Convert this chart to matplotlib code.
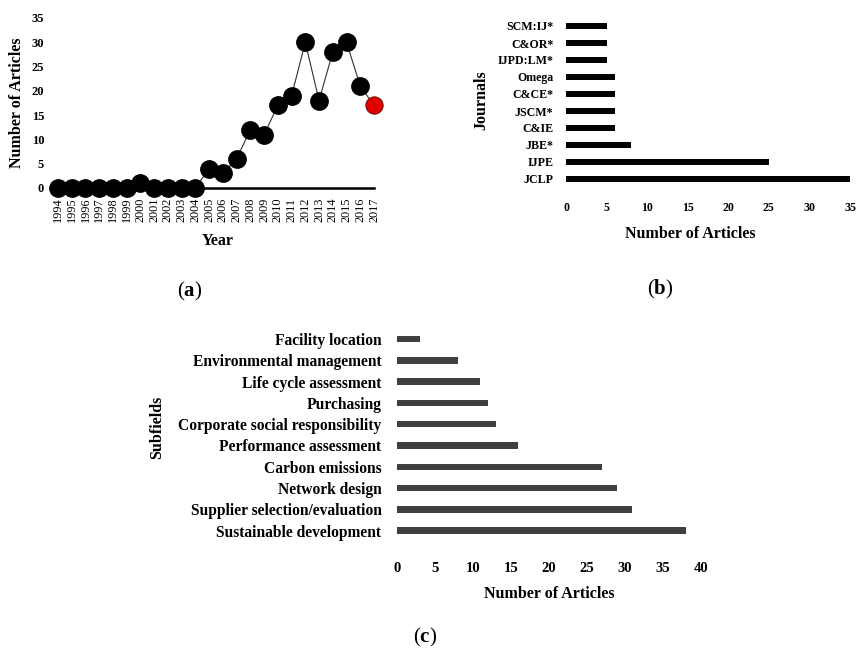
import matplotlib
matplotlib.use("Agg")
import matplotlib.pyplot as plt

# (a) articles per year
years = list(range(1994, 2018))
articles = [0, 0, 0, 0, 0, 0, 1, 0, 0, 0, 0, 4, 3, 6, 12, 11, 17, 19, 30, 18, 28, 30, 21, 17]

# (b) journals
journals = ["JCLP", "IJPE", "JBE*", "C&IE", "JSCM*", "C&CE*", "Omega", "IJPD:LM*", "C&OR*", "SCM:IJ*"]
journal_counts = [35, 25, 8, 6, 6, 6, 6, 5, 5, 5]

# (c) subfields
subfields = ["Sustainable development", "Supplier selection/evaluation", "Network design",
             "Carbon emissions", "Performance assessment", "Corporate social responsibility",
             "Purchasing", "Life cycle assessment", "Environmental management", "Facility location"]
subfield_counts = [38, 31, 29, 27, 16, 13, 12, 11, 8, 3]

W, H = 857, 650
plt.rcParams['font.family'] = ['Liberation Serif', 'DejaVu Serif']
plt.rcParams['font.weight'] = 'bold'
plt.rcParams['mathtext.fontset'] = 'custom'
plt.rcParams['mathtext.rm'] = 'Liberation Serif'
plt.rcParams['mathtext.bf'] = 'Liberation Serif:bold'

fig = plt.figure(figsize=(W / 100, H / 100), dpi=100)
tf = fig.transFigure


def box(x0, y0, x1, y1):
    # pixel box (top-left origin) -> figure fraction rect
    return [x0 / W, 1 - y1 / H, (x1 - x0) / W, (y1 - y0) / H]


def fx(x):
    return x / W


def fy(y):
    return 1 - y / H


def clean(ax):
    for s in ax.spines.values():
        s.set_visible(False)
    ax.tick_params(length=0)


# ---- (a)
axa = fig.add_axes(box(52.5, 18, 379.5, 188))
xs = list(range(len(years)))
axa.plot(xs, articles, color='#303030', lw=0.8, zorder=2)
axa.plot(xs[:-1], articles[:-1], 'o', color='black', ms=12.5, clip_on=False, zorder=3)
axa.plot(xs[-1:], articles[-1:], 'o', color='#e00000', mec='#600000', mew=0.6, ms=12.5,
         clip_on=False, zorder=3)
axa.set_xlim(-0.4, 23.4)
axa.set_ylim(0, 35)
clean(axa)
axa.spines['bottom'].set_visible(True)
axa.spines['bottom'].set_bounds(0, 23)
axa.spines['bottom'].set_linewidth(1.8)
axa.set_yticks(range(0, 36, 5))
axa.set_xticks(xs)
axa.set_xticklabels([str(y) for y in years], rotation=90, fontsize=8.8, fontweight='normal')
axa.tick_params(axis='x', pad=7)
axa.tick_params(axis='y', labelsize=9, pad=6)
axa.set_ylabel("Number of Articles", fontsize=11.5, fontweight='bold')
axa.yaxis.set_label_coords(fx(25), fy(103), transform=tf)
axa.set_xlabel("Year", fontsize=11.5, fontweight='bold')
axa.xaxis.set_label_coords(fx(218), fy(233), transform=tf)

# ---- (b)
axb = fig.add_axes(box(566, 12.4, 850, 192.6))
axb.barh(range(len(journals)), journal_counts, height=0.32, color='black')
axb.set_xlim(0, 35)
axb.set_ylim(-0.8, 9.8)
clean(axb)
axb.set_yticks(range(len(journals)))
axb.set_yticklabels(journals, fontsize=8.6)
axb.set_xticks(range(0, 36, 5))
axb.tick_params(axis='y', pad=9)
axb.tick_params(axis='x', labelsize=8.6, pad=7)
axb.set_ylabel("Journals", fontsize=11.5, fontweight='bold')
axb.yaxis.set_label_coords(fx(489), fy(100), transform=tf)
axb.set_xlabel("Number of Articles", fontsize=11.5, fontweight='bold')
axb.xaxis.set_label_coords(fx(690), fy(226), transform=tf)

# ---- (c)
axc = fig.add_axes(box(396.7, 322, 700.7, 547.7))
axc.barh(range(len(subfields)), subfield_counts, height=0.3, color='#404040')
axc.set_xlim(0, 40)
axc.set_ylim(-0.8, 9.8)
clean(axc)
axc.set_yticks(range(len(subfields)))
axc.set_yticklabels(subfields, fontsize=11.2)
axc.set_xticks(range(0, 41, 5))
axc.tick_params(axis='y', pad=11)
axc.tick_params(axis='x', labelsize=10.5, pad=10)
axc.set_ylabel("Subfields", fontsize=11.5, fontweight='bold')
axc.yaxis.set_label_coords(fx(165), fy(427), transform=tf)
axc.set_xlabel("Number of Articles", fontsize=11.5, fontweight='bold')
axc.xaxis.set_label_coords(fx(549), fy(586), transform=tf)

# panel letters
for lab, x, y in [("a", 190, 291), ("b", 660, 289), ("c", 425, 637)]:
    fig.text(fx(x), fy(y), "(" + r"$\mathbf{" + lab + "}$" + ")", ha='center', va='center',
             fontsize=15, fontweight='normal')

fig.savefig("out.png", dpi=100)
